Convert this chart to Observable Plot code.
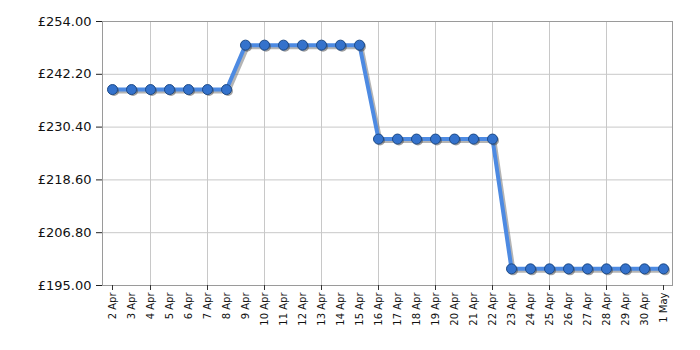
<!DOCTYPE html>
<html><head><meta charset="utf-8">
<script src="https://cdn.jsdelivr.net/npm/d3@7"></script>
<script src="https://cdn.jsdelivr.net/npm/@observablehq/plot@0.6"></script>
<style>body{margin:0;background:#fff;} svg{font-family:"DejaVu Sans",Verdana,sans-serif;}</style>
</head><body><div id="chart"></div>
<script>
const days = ["2 Apr","3 Apr","4 Apr","5 Apr","6 Apr","7 Apr","8 Apr","9 Apr","10 Apr","11 Apr","12 Apr","13 Apr","14 Apr","15 Apr","16 Apr","17 Apr","18 Apr","19 Apr","20 Apr","21 Apr","22 Apr","23 Apr","24 Apr","25 Apr","26 Apr","27 Apr","28 Apr","29 Apr","30 Apr","1 May"];
const prices = [238.79,238.79,238.79,238.79,238.79,238.79,238.79,
  248.72,248.72,248.72,248.72,248.72,248.72,248.72,
  227.73,227.73,227.73,227.73,227.73,227.73,227.73,
  198.72,198.72,198.72,198.72,198.72,198.72,198.72,198.72,198.72];
const yTicks = [195, 206.8, 218.6, 230.4, 242.2, 254];
const xGrid = ["4 Apr","7 Apr","10 Apr","13 Apr","16 Apr","19 Apr","22 Apr","25 Apr","28 Apr"];
const xTickMarks = ["2 Apr","4 Apr","7 Apr","10 Apr","13 Apr","16 Apr","19 Apr","22 Apr","25 Apr","28 Apr","1 May"];
const data = days.map((d,i)=>({day:d, price:prices[i]}));

const chart = Plot.plot({
  width: 700, height: 350,
  marginLeft: 102, marginRight: 28, marginTop: 21, marginBottom: 65,
  x: {type:"point", domain: days, padding: 0, label: null},
  y: {domain: [195, 254], label: null},
  marks: [
    Plot.ruleY(yTicks, {stroke:"#c8c8c8", strokeWidth:1}),
    Plot.ruleX(xGrid, {stroke:"#c8c8c8", strokeWidth:1}),
    Plot.frame({stroke:"#9a9a9a"}),
    Plot.axisY({ticks: yTicks, tickFormat: d=>"£"+d.toFixed(2), tickSize: 6, tickPadding: 5, fontSize: 13, stroke:"#222", fill:"#111", label: null}),
    Plot.axisX({ticks: days, tickSize: 0, tickRotate: -90, tickPadding: 7, fontSize: 10, fill:"#111", label: null}),
    Plot.axisX({ticks: xTickMarks, tickSize: 5, text: null, stroke:"#333", label: null}),
    Plot.line(data, {x:"day", y:"price", stroke:"#777", strokeWidth:4, strokeOpacity:0.55, dx:2, dy:2}),
    Plot.line(data, {x:"day", y:"price", stroke:"#4d8ae2", strokeWidth:4}),
    Plot.dot(data, {x:"day", y:"price", r:5, fill:"#444", fillOpacity:0.5, dx:1.5, dy:1.5}),
    Plot.dot(data, {x:"day", y:"price", r:5, fill:"#3472cc", stroke:"#1d4a87", strokeWidth:1})
  ]
});
document.getElementById("chart").appendChild(chart);
</script>
</body></html>
